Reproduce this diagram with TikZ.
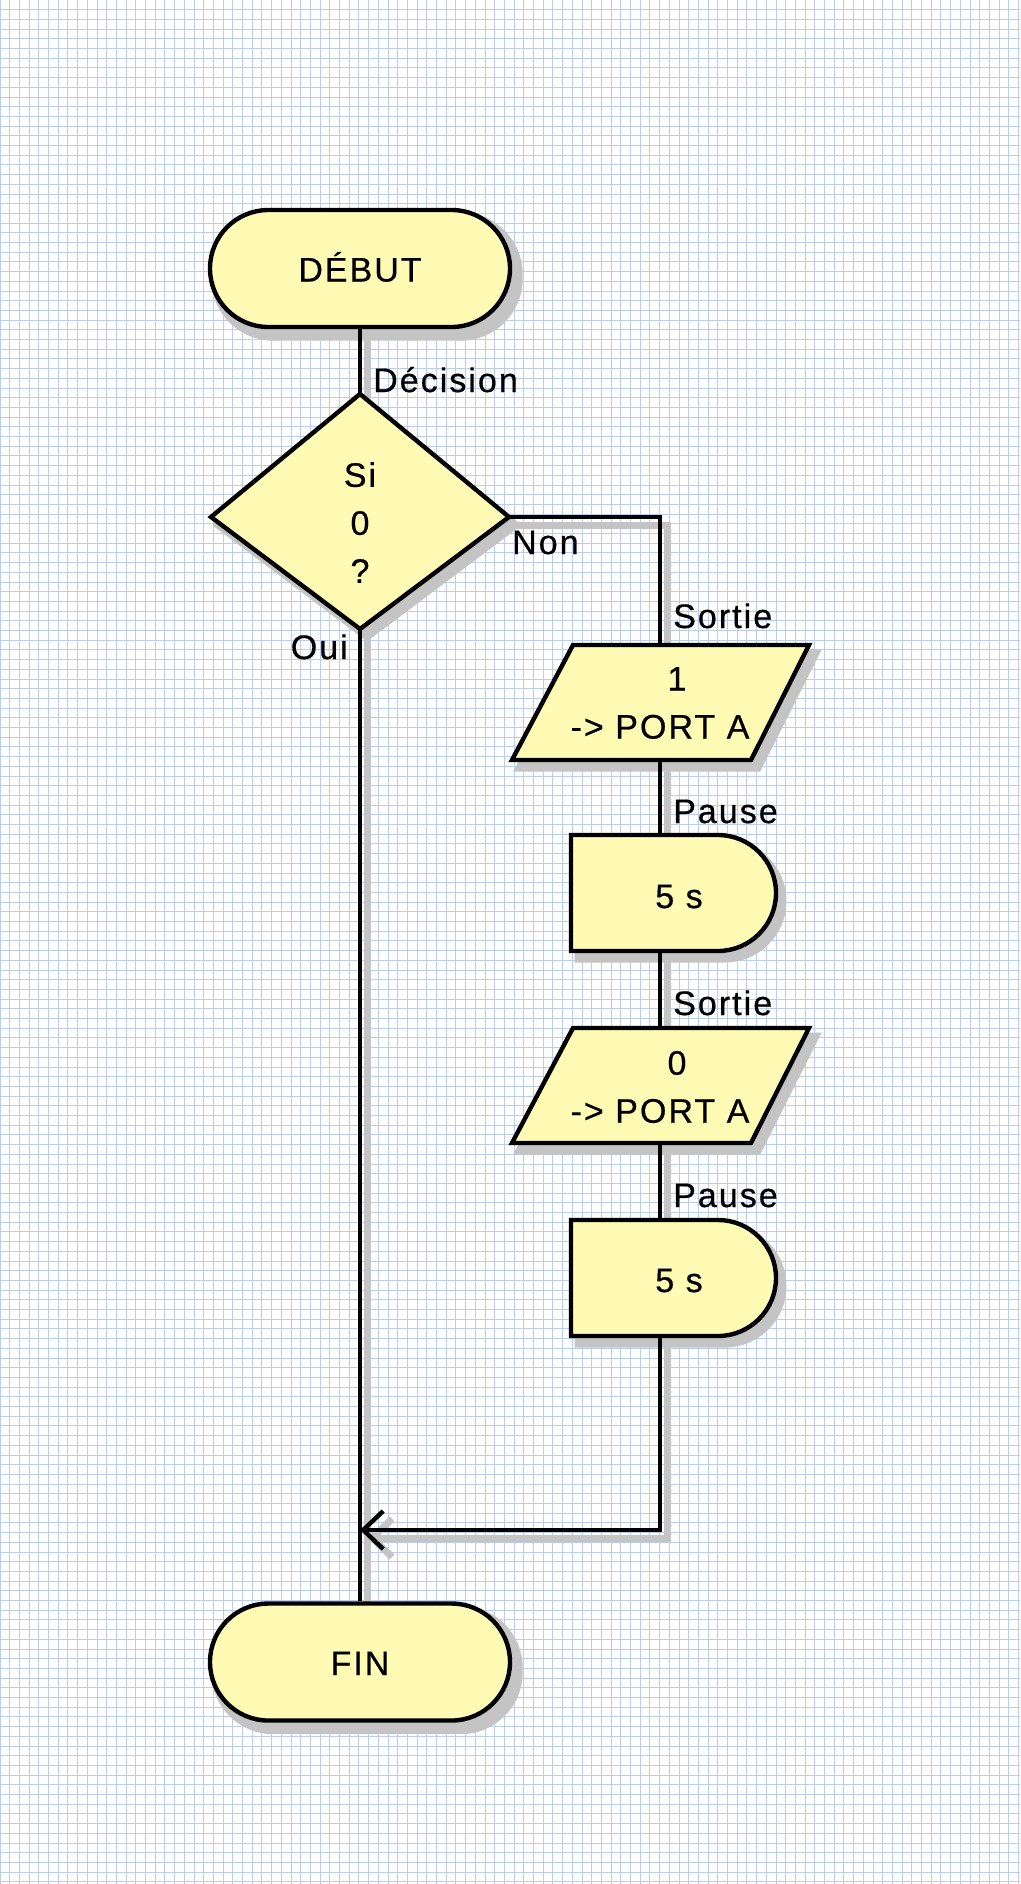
\documentclass[tikz,border=0pt]{standalone}
\usepackage{fontspec}
\newfontfamily\lbfont{Liberation Sans}[LetterSpace=6,FakeBold=0.6]
\usetikzlibrary{arrows.meta}
\definecolor{gridcol}{RGB}{186,205,240}
\definecolor{fillcol}{RGB}{255,250,180}
\definecolor{shadowcol}{RGB}{196,196,196}
\pgfdeclarelayer{gridlayer}
\pgfdeclarelayer{shadowlayer}
\pgfsetlayers{gridlayer,shadowlayer,main}
\newcommand\drawlinks[1]{%
  \draw[#1] (debut.south) -- (dT);
  \draw[#1] (dR) -| (p1T);
  \draw[#1] (p1B) -- (d1T);
  \draw[#1] (d1B) -- (p2T);
  \draw[#1] (p2B) -- (d2T);
  \draw[#1, -{Straight Barb[length=20pt, width=38pt]}] (d2B) |- (join);
  \draw[#1] (dB) -- (fin.north);
}
\newcommand\drawshapes[1]{%
  \path[#1] (dT) -- (dR) -- (dB) -- (dL) -- cycle;
  \path[#1] (573,645) -- (809,645) -- (751,760) -- (512,760) -- cycle;
  \path[#1] (571,835) -- (718,835) .. controls (750,835) and (776,861) .. (776,893)
            .. controls (776,925) and (750,951) .. (718,951) -- (571,951) -- cycle;
  \path[#1] (573,1028) -- (809,1028) -- (751,1143) -- (512,1143) -- cycle;
  \path[#1] (571,1220) -- (718,1220) .. controls (750,1220) and (776,1246) .. (776,1278)
            .. controls (776,1310) and (750,1336) .. (718,1336) -- (571,1336) -- cycle;
}
\newcommand\drawterminals[1]{%
  \path[#1, rounded corners=58.4pt] (debut.south west) rectangle (debut.north east);
  \path[#1, rounded corners=58.4pt] (fin.south west) rectangle (fin.north east);
}
\tikzset{
  outline/.style={draw=black, fill=fillcol, line width=4.4pt},
  shadowshape/.style={draw=shadowcol, fill=shadowcol, line width=7pt},
  link/.style={draw=black, line width=4.4pt},
  shadowlink/.style={draw=shadowcol, line width=7pt},
  terminal/.style={outline, rectangle, rounded corners=58.4pt, minimum width=300pt,
                   minimum height=117pt, text height=26pt, text depth=-2pt},
  lbl/.style={anchor=base west},
  inner/.style={align=center},
}
\begin{document}
\begin{tikzpicture}[x=1pt,y=-1pt,
  every node/.style={font=\lbfont\fontsize{34}{48}\selectfont, inner sep=0pt}]
\useasboundingbox (0,0) rectangle (1020,1884);
\begin{pgfonlayer}{gridlayer}
  \fill[white] (0,0) rectangle (1020,1884);
  \foreach \i in {0,...,105} \draw[gridcol, line width=1pt] (\i*9.7,0) -- (\i*9.7,1884);
  \foreach \j in {0,...,194} \draw[gridcol, line width=1pt] (0,\j*9.7) -- (1020,\j*9.7);
\end{pgfonlayer}

% anchor points of the drawn shapes
\coordinate (dT) at (360,394);
\coordinate (dR) at (509,517);
\coordinate (dB) at (360,629);
\coordinate (dL) at (211,517);
\coordinate (p1T) at (660,645);
\coordinate (p1B) at (660,760);
\coordinate (d1T) at (660,835);
\coordinate (d1B) at (660,951);
\coordinate (p2T) at (660,1028);
\coordinate (p2B) at (660,1143);
\coordinate (d2T) at (660,1220);
\coordinate (d2B) at (660,1336);
\coordinate (join) at (360,1530);

% terminals
\node[terminal] (debut) at (360,268.5) {DÉBUT};
\node[terminal] (fin) at (360,1662) {FIN};

% shapes and connectors
\drawshapes{outline}
\drawlinks{link}

% shadows
\begin{pgfonlayer}{shadowlayer}
  \begin{scope}[transform canvas={shift={(7,8)}}]
    \drawterminals{shadowshape}
    \drawshapes{shadowshape}
    \drawlinks{shadowlink}
  \end{scope}
\end{pgfonlayer}

% texts in shapes
\node[inner] (dec) at (360,522.5) {Si\\0\\?};
\node[inner] (out1) at (660,703) {\hspace*{34pt}1\\-> PORT A};
\node[anchor=base] (wait1) at (679,908) {5 s};
\node[inner] (out2) at (660,1087) {\hspace*{34pt}0\\-> PORT A};
\node[anchor=base] (wait2) at (679,1292) {5 s};

% labels
\node[lbl] (lbldec) at (373,392) {Décision};
\node[lbl] (lblnon) at (512,554) {Non};
\node[anchor=base east] (lbloui) at (348,659) {Oui};
\node[lbl] (lblsortie1) at (673,628) {Sortie};
\node[lbl] (lblpause1) at (673,823) {Pause};
\node[lbl] (lblsortie2) at (673,1015) {Sortie};
\node[lbl] (lblpause2) at (673,1207) {Pause};
\end{tikzpicture}
\end{document}
